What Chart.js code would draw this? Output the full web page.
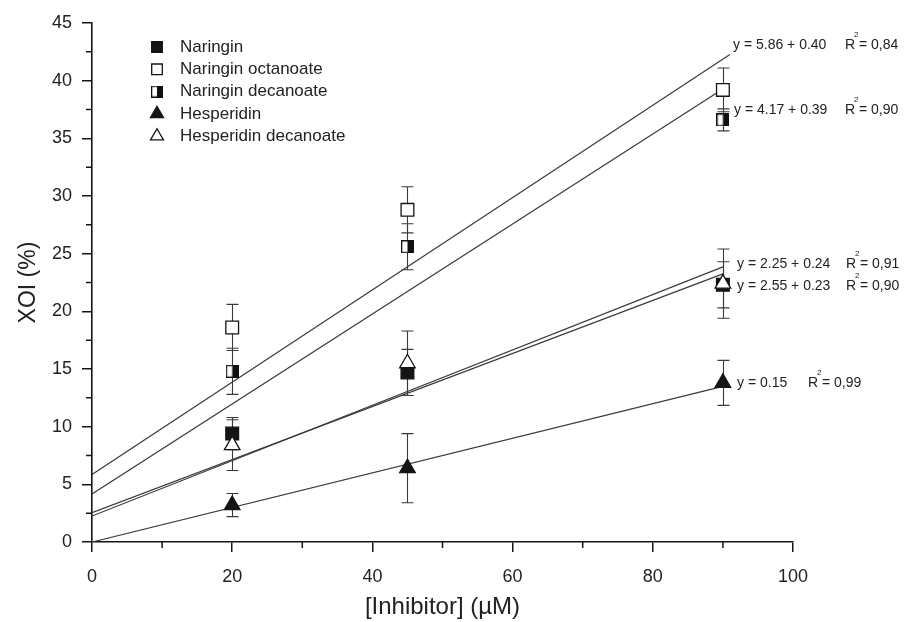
<!DOCTYPE html>
<html>
<head>
<meta charset="utf-8">
<script src="https://cdn.jsdelivr.net/npm/chart.js@4.4.1/dist/chart.umd.min.js"></script>
<style>
  html, body { margin: 0; padding: 0; background: #ffffff; }
  #wrap { width: 904px; height: 622px; position: relative; }
</style>
</head>
<body>
<div id="wrap"><canvas id="c" width="904" height="622"></canvas></div>
<script>
// ---- Data ----
const xDoses = [20, 45, 90];

const naringin = [9.4, 14.7, 22.3];
const naringinErr = [1.4, 2.0, 2.0];

const naringinOct = [18.6, 28.8, 39.2];
const naringinOctErr = [2.0, 2.0, 1.9];

const naringinDec = [14.8, 25.6, 36.6];
const naringinDecErr = [2.0, 2.0, 0.95];

const hesperidin = [3.2, 6.4, 13.8];
const hesperidinErr = [1.0, 3.0, 1.95];

const hesperidinDec = [8.4, 15.5, 22.4];
const hesperidinDecErr = [2.2, 2.8, 3.0];

const seriesNames = ["Naringin", "Naringin octanoate", "Naringin decanoate", "Hesperidin", "Hesperidin decanoate"];

// Linear fits printed on the figure
const fitIntercepts = [5.86, 4.17, 2.25, 2.55, 0];
const fitSlopes = [0.40, 0.39, 0.24, 0.23, 0.15];
const fitEnds = [91, 90, 90, 90, 90];
const fitEquations = ["y = 5.86 + 0.40", "y = 4.17 + 0.39", "y = 2.25 + 0.24", "y = 2.55 + 0.23", "y = 0.15"];
const fitR2 = ["0,84", "0,90", "0,91", "0,90", "0,99"];

const xTicks = [0, 20, 40, 60, 80, 100];
const yTicks = [0, 5, 10, 15, 20, 25, 30, 35, 40, 45];

// ---- Marker: half-filled square ----
function halfSquare(size) {
  const c = document.createElement('canvas');
  c.width = size; c.height = size;
  const g = c.getContext('2d');
  g.fillStyle = '#ffffff';
  g.fillRect(0, 0, size, size);
  g.fillStyle = '#111111';
  g.fillRect(size / 2, 0, size / 2, size);
  g.strokeStyle = '#111111';
  g.lineWidth = 1.3;
  g.strokeRect(0.65, 0.65, size - 1.3, size - 1.3);
  return c;
}
const halfSq = halfSquare(13);
const halfSqLegend = halfSquare(12);

const pts = arr => arr.map((v, i) => ({ x: xDoses[i], y: v }));

const INK = '#151515';
const seriesStyles = [
  { pointStyle: 'rect', radius: 9, bg: INK, border: INK },
  { pointStyle: 'rect', radius: 9, bg: '#ffffff', border: INK },
  { pointStyle: halfSq, radius: 9, bg: INK, border: INK },
  { pointStyle: 'triangle', radius: 9, bg: INK, border: INK },
  { pointStyle: 'triangle', radius: 9, bg: '#ffffff', border: INK }
];
const seriesValues = [naringin, naringinOct, naringinDec, hesperidin, hesperidinDec];
const seriesErrors = [naringinErr, naringinOctErr, naringinDecErr, hesperidinErr, hesperidinDecErr];

const datasets = [];
fitIntercepts.forEach((b, i) => {
  datasets.push({
    type: 'line',
    label: fitEquations[i],
    data: [{ x: 0, y: b }, { x: fitEnds[i], y: b + fitSlopes[i] * fitEnds[i] }],
    borderColor: '#3a3a3a',
    borderWidth: 1.2,
    pointRadius: 0,
    fill: false,
    order: 10
  });
});
const drawOrder = [4, 0, 2, 1, 3];
drawOrder.forEach(k => {
  const s = seriesStyles[k];
  datasets.push({
    type: 'scatter',
    label: seriesNames[k],
    errors: seriesErrors[k],
    data: pts(seriesValues[k]),
    pointStyle: s.pointStyle,
    pointRadius: s.radius,
    pointHoverRadius: s.radius,
    backgroundColor: s.bg,
    borderColor: s.border,
    borderWidth: 1.3,
    showLine: false,
    order: 1
  });
});

// ---- Plugins ----
const errorBars = {
  id: 'errorBars',
  beforeDatasetsDraw(chart) {
    const { ctx, scales: { x, y } } = chart;
    ctx.save();
    ctx.strokeStyle = '#3a3a3a';
    ctx.lineWidth = 1.1;
    chart.data.datasets.forEach(ds => {
      if (!ds.errors) return;
      ds.data.forEach((p, i) => {
        const e = ds.errors[i];
        const px = Math.round(x.getPixelForValue(p.x)) + 0.5;
        const t = y.getPixelForValue(p.y + e);
        const b = y.getPixelForValue(p.y - e);
        ctx.beginPath();
        ctx.moveTo(px, t); ctx.lineTo(px, b);
        ctx.moveTo(px - 6, t); ctx.lineTo(px + 6, t);
        ctx.moveTo(px - 6, b); ctx.lineTo(px + 6, b);
        ctx.stroke();
      });
    });
    ctx.restore();
  }
};

const minorTicks = {
  id: 'minorTicks',
  afterDraw(chart) {
    const { ctx, scales: { x, y }, chartArea } = chart;
    ctx.save();
    ctx.strokeStyle = INK;
    ctx.lineWidth = 1.5;
    ctx.beginPath();
    for (let v = 10; v < 100; v += 20) {
      const px = x.getPixelForValue(v);
      ctx.moveTo(px, chartArea.bottom); ctx.lineTo(px, chartArea.bottom + 6);
    }
    for (let v = 2.5; v < 45; v += 5) {
      const py = y.getPixelForValue(v);
      ctx.moveTo(chartArea.left, py); ctx.lineTo(chartArea.left - 6, py);
    }
    ctx.stroke();
    ctx.restore();
  }
};

const legendBox = {
  id: 'legendBox',
  afterDraw(chart, args, opts) {
    const { ctx } = chart;
    ctx.save();
    ctx.font = opts.font;
    ctx.textBaseline = 'middle';
    ctx.textAlign = 'left';
    seriesNames.forEach((name, k) => {
      const s = seriesStyles[k];
      const yy = opts.top + k * opts.rowGap;
      ctx.fillStyle = s.bg;
      ctx.strokeStyle = s.border;
      ctx.lineWidth = 1.3;
      const style = s.pointStyle === halfSq ? halfSqLegend : s.pointStyle;
      Chart.helpers.drawPoint(ctx, { pointStyle: style, radius: 7.5, rotation: 0, borderWidth: 1.3 }, opts.markerX, yy);
      ctx.fillStyle = '#222222';
      ctx.fillText(name, opts.textX, yy);
    });
    ctx.restore();
  }
};

const fitLabels = {
  id: 'fitLabels',
  afterDraw(chart, args, opts) {
    const { ctx } = chart;
    ctx.save();
    ctx.fillStyle = '#222222';
    ctx.textBaseline = 'middle';
    ctx.textAlign = 'left';
    fitEquations.forEach((eq, i) => {
      const p = opts.positions[i];
      ctx.font = opts.font;
      ctx.fillText(eq, p.x, p.y);
      ctx.fillText('R', p.rx, p.y);
      const rw = ctx.measureText('R').width;
      ctx.fillText(' = ' + fitR2[i], p.rx + rw, p.y);
      ctx.font = opts.supFont;
      ctx.fillText('2', p.rx + rw - 1, p.y - 10);
    });
    ctx.restore();
  }
};

const FONT = "'Liberation Sans', Arial, sans-serif";

new Chart(document.getElementById('c'), {
  type: 'scatter',
  data: { datasets },
  plugins: [errorBars, minorTicks, legendBox, fitLabels],
  options: {
    responsive: false,
    animation: false,
    devicePixelRatio: 1,
    layout: { padding: { left: 0, right: 111, top: 23, bottom: 0 } },
    plugins: {
      legend: { display: false },
      tooltip: { enabled: false },
      legendBox: { font: "17px " + FONT, top: 47, rowGap: 22.3, markerX: 157, textX: 180 },
      fitLabels: {
        font: "14px " + FONT,
        supFont: "8px " + FONT,
        positions: [
          { x: 733, y: 45, rx: 845 },
          { x: 734, y: 110, rx: 845 },
          { x: 737, y: 264, rx: 846 },
          { x: 737, y: 286, rx: 846 },
          { x: 737, y: 383, rx: 808 }
        ]
      }
    },
    scales: {
      x: {
        type: 'linear',
        min: 0, max: 100,
        afterFit(s) { s.height = 80; },
        afterBuildTicks(s) { s.ticks = xTicks.map(v => ({ value: v })); },
        ticks: { font: { size: 18, family: FONT }, color: '#222222', padding: 14, maxRotation: 0 },
        grid: { drawOnChartArea: false, drawTicks: true, tickLength: 10, color: INK, lineWidth: 1.5 },
        border: { display: true, color: INK, width: 1.6 },
        title: { display: true, text: '[Inhibitor] (µM)', font: { size: 24, family: FONT }, color: '#222222', padding: { top: 0, bottom: 0 } }
      },
      y: {
        type: 'linear',
        min: 0, max: 45,
        afterFit(s) { s.width = 92; },
        afterBuildTicks(s) { s.ticks = yTicks.map(v => ({ value: v })); },
        ticks: { font: { size: 18, family: FONT }, color: '#222222', padding: 10 },
        grid: { drawOnChartArea: false, drawTicks: true, tickLength: 10, color: INK, lineWidth: 1.5 },
        border: { display: true, color: INK, width: 1.6 },
        title: { display: true, text: 'XOI (%)', font: { size: 23, family: FONT }, color: '#222222', padding: { top: 15, bottom: 0 } }
      }
    }
  }
});
</script>
</body>
</html>
